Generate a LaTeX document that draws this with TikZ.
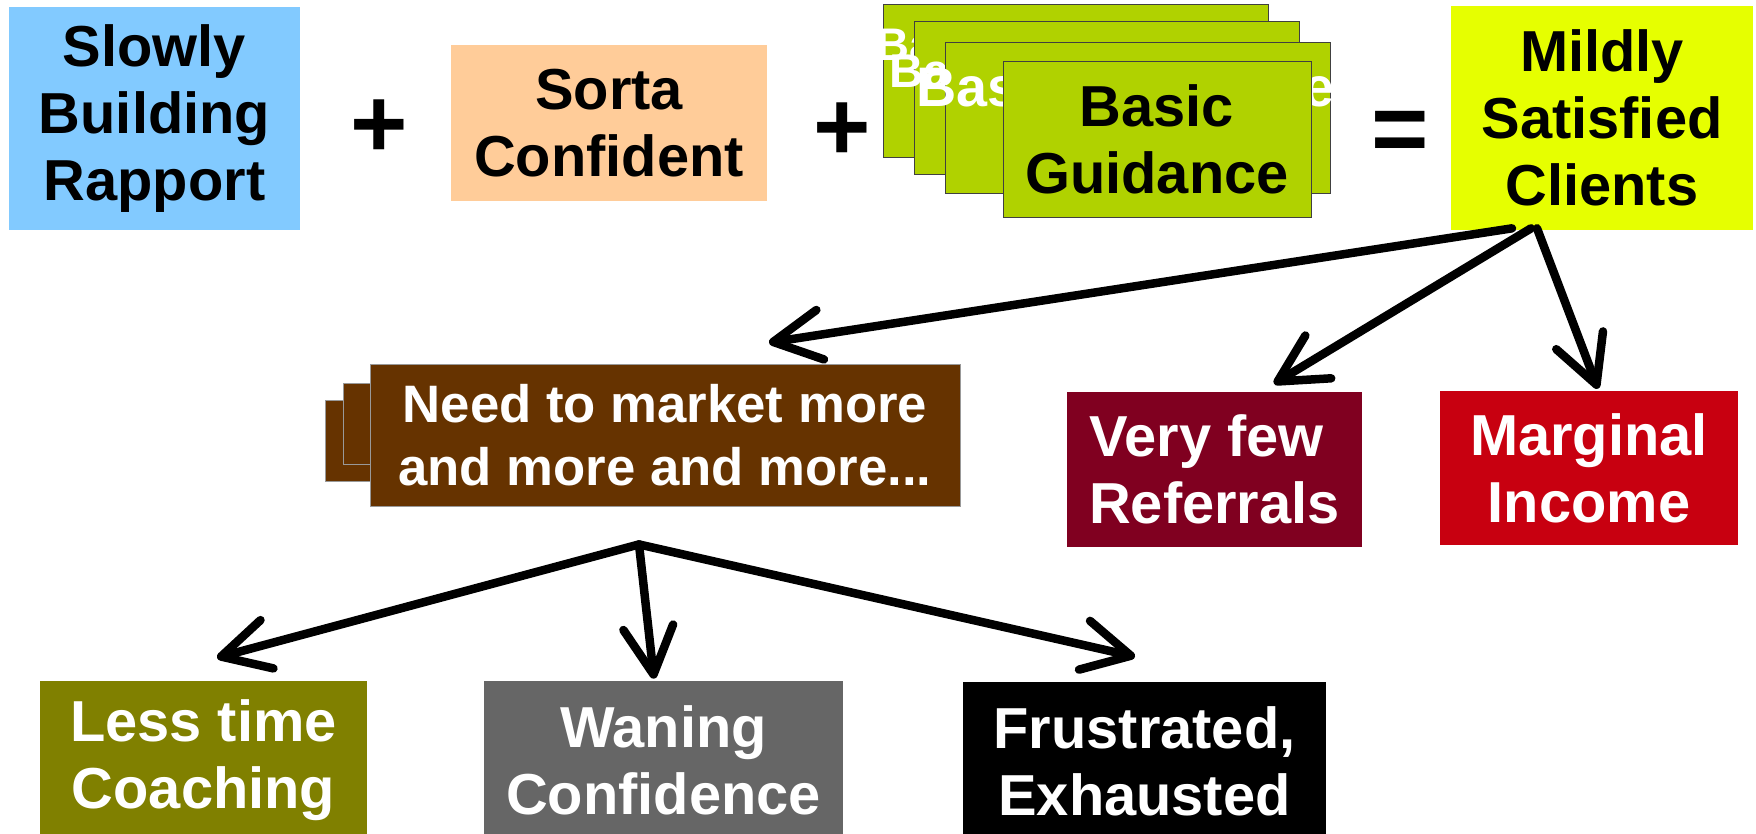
\documentclass[tikz,border=0pt]{standalone}
\usepackage{fontspec}
\setmainfont{Liberation Sans}
\usetikzlibrary{arrows.meta}
\definecolor{skyblue}{RGB}{130,202,255}
\definecolor{peach}{RGB}{255,204,153}
\definecolor{grn}{RGB}{176,210,0}
\definecolor{lime}{RGB}{230,255,0}
\definecolor{brn}{RGB}{102,51,0}
\definecolor{wine}{RGB}{128,0,32}
\definecolor{crim}{RGB}{200,0,16}
\definecolor{olv}{RGB}{128,128,0}
\definecolor{slate}{RGB}{102,102,102}
\newcommand{\tbig}  {\fontsize{32.9pt}{38pt}\selectfont}
\newcommand{\tmid}  {\fontsize{30pt}{35.7pt}\selectfont}
\newcommand{\tsign} {\fontsize{56pt}{60pt}\selectfont}

\begin{document}
\begin{tikzpicture}[x=0.02cm,y=-0.02cm,
   box/.style={inner sep=0pt, align=center, font=\tbig\bfseries},
   ghost/.style={fill=grn, draw=black!75, line width=0.5pt,
                 minimum width=7.7cm, minimum height=3.06cm, inner sep=0pt},
   ghosttxt/.style={anchor=base west, inner sep=0pt, text=white},
   sign/.style={inner sep=0pt, font=\tsign\bfseries},
   arr/.style={line width=0.17cm, line cap=round,
               -{Straight Barb[length=0.95cm,width=1cm,line cap=round,line join=round]}}]
   \useasboundingbox (0,0) rectangle (1756,833);
   % top row
   \node[box, fill=skyblue, minimum width=5.82cm, minimum height=4.46cm]
      (rapport) at (154.5,118.5) {Slowly\\Building\\Rapport};
   \node[sign] (plusA) at (379,129) {+};
   \node[box, fill=peach, minimum width=6.32cm, minimum height=3.12cm]
      (confident) at (609,123) {Sorta\\Confident};
   \node[sign] (plusB) at (842,132) {+};
   % stacked copies behind the guidance box
   \node[ghost] (ghostA) at (1075.5,80.5) {};
   \node[ghosttxt, font=\fontsize{26pt}{30pt}\selectfont\bfseries] (ghostAtxt) at (876,60) {Basic Guidance};
   \node[ghost] (ghostB) at (1106.5,97.5) {};
   \node[ghosttxt, font=\fontsize{27pt}{31pt}\selectfont\bfseries] (ghostBtxt) at (889,87) {Basic Guidance};
   \node[ghost, minimum height=3.02cm] (ghostC) at (1137.5,117.5) {};
   \node[ghosttxt, font=\fontsize{31.7pt}{36pt}\selectfont\bfseries] (ghostCtxt) at (916,106) {Basic Guidance};
   \node[box, fill=grn, draw=black!75, line width=0.5pt, minimum width=6.16cm, minimum height=3.12cm]
      (guidance) at (1157,139) {Basic\\Guidance};
   \node[sign] (equals) at (1400,137) {=};
   \node[box, fill=lime, minimum width=6.04cm, minimum height=4.48cm]
      (clients) at (1602,118) {Mildly\\Satisfied\\Clients};
   % middle row
   \node[fill=brn, draw=black!40, line width=0.5pt, minimum width=6cm, minimum height=1.62cm]
      (marketA) at (475,440.5) {};
   \node[fill=brn, draw=black!40, line width=0.5pt, minimum width=6cm, minimum height=1.62cm]
      (marketB) at (493,423.5) {};
   \node[box, font=\tmid\bfseries, text=white, fill=brn, draw=black!40, line width=0.5pt,
      minimum width=11.8cm, minimum height=2.84cm]
      (market) at (665,435) {Need to market more\\and more and more...};
   \node[box, align=left, text=white, fill=wine, minimum width=5.9cm, minimum height=3.1cm]
      (referrals) at (1214.5,469.5) {Very few\\Referrals};
   \node[box, text=white, fill=crim, minimum width=5.96cm, minimum height=3.08cm]
      (income) at (1589,468) {Marginal\\Income};
   % bottom row
   \node[box, text=white, fill=olv, minimum width=6.54cm, minimum height=3.18cm]
      (coaching) at (203.5,760.5) {Less time\\Coaching};
   \node[box, text=white, fill=slate, minimum width=7.18cm, minimum height=3.18cm]
      (waning) at (663.5,760.5) {Waning\\Confidence};
   \node[box, text=white, fill=black, minimum width=7.26cm, minimum height=3.16cm]
      (exhausted) at (1144.5,761) {Frustrated,\\Exhausted};
   % arrows
   \coordinate (hub) at ([shift={(-26,38)}]market.south);
   \draw[arr] ([shift={(-90,-2)}]clients.south) -- ([shift={(104,-21)}]market.north);
   \draw[arr] ([shift={(-71,-2)}]clients.south) -- ([shift={(59.5,-8)}]referrals.north);
   \draw[arr] ([shift={(-65,-2)}]clients.south) -- ([shift={(9,-2)}]income.north);
   \draw[arr] (hub) -- ([shift={(13.5,-23)}]coaching.north);
   \draw[arr] (hub) -- ([shift={(-9.5,-2)}]waning.north);
   \draw[arr] (hub) -- ([shift={(-9.5,-25)}]exhausted.north);
\end{tikzpicture}
\end{document}
